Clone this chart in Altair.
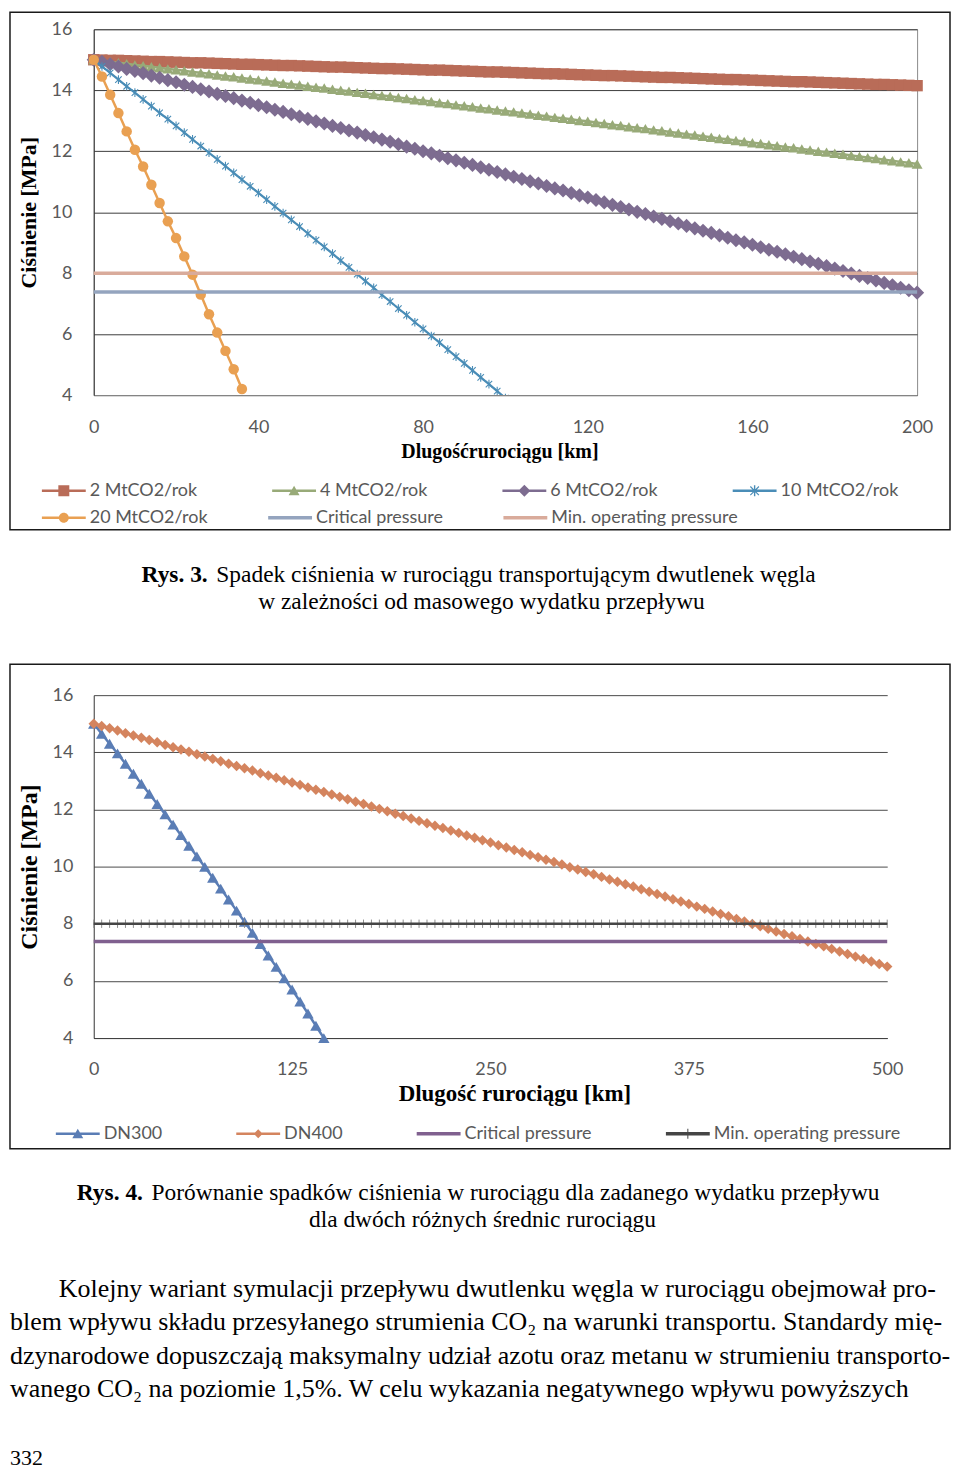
import altair as alt
import pandas as pd

# ------------------------------------------------------------------ Rys. 3 data
km_2_6 = list(range(0, 201, 2))
p_2mt = [15.00, 14.99, 14.98, 14.98, 14.97, 14.96, 14.95, 14.94, 14.94, 14.93,
         14.92, 14.91, 14.90, 14.90, 14.89, 14.88, 14.87, 14.86, 14.85, 14.85,
         14.84, 14.83, 14.82, 14.81, 14.81, 14.80, 14.79, 14.78, 14.77, 14.76,
         14.76, 14.75, 14.74, 14.73, 14.72, 14.71, 14.71, 14.70, 14.69, 14.68,
         14.67, 14.66, 14.66, 14.65, 14.64, 14.63, 14.62, 14.61, 14.60, 14.60,
         14.59, 14.58, 14.57, 14.56, 14.55, 14.54, 14.54, 14.53, 14.52, 14.51,
         14.50, 14.49, 14.48, 14.48, 14.47, 14.46, 14.45, 14.44, 14.43, 14.42,
         14.42, 14.41, 14.40, 14.39, 14.38, 14.37, 14.36, 14.35, 14.35, 14.34,
         14.33, 14.32, 14.31, 14.30, 14.29, 14.28, 14.28, 14.27, 14.26, 14.25,
         14.24, 14.23, 14.22, 14.21, 14.20, 14.19, 14.19, 14.18, 14.17, 14.16,
         14.15]
p_4mt = [15.00, 14.97, 14.93, 14.90, 14.87, 14.83, 14.80, 14.77, 14.74, 14.70,
         14.67, 14.64, 14.60, 14.57, 14.54, 14.50, 14.47, 14.44, 14.40, 14.37,
         14.34, 14.30, 14.27, 14.23, 14.20, 14.17, 14.13, 14.10, 14.07, 14.03,
         14.00, 13.97, 13.93, 13.90, 13.86, 13.83, 13.80, 13.76, 13.73, 13.69,
         13.66, 13.63, 13.59, 13.56, 13.52, 13.49, 13.46, 13.42, 13.39, 13.35,
         13.32, 13.29, 13.25, 13.22, 13.18, 13.15, 13.11, 13.08, 13.05, 13.01,
         12.98, 12.94, 12.91, 12.87, 12.84, 12.80, 12.77, 12.74, 12.70, 12.67,
         12.63, 12.60, 12.56, 12.53, 12.49, 12.46, 12.42, 12.39, 12.35, 12.32,
         12.28, 12.25, 12.21, 12.18, 12.14, 12.11, 12.07, 12.04, 12.00, 11.97,
         11.93, 11.90, 11.86, 11.83, 11.79, 11.76, 11.72, 11.69, 11.65, 11.62,
         11.58]
p_6mt = [15.00, 14.93, 14.85, 14.78, 14.70, 14.63, 14.56, 14.48, 14.41, 14.33,
         14.26, 14.18, 14.11, 14.03, 13.96, 13.88, 13.81, 13.74, 13.66, 13.59,
         13.51, 13.44, 13.36, 13.29, 13.21, 13.14, 13.06, 12.98, 12.91, 12.83,
         12.76, 12.68, 12.61, 12.53, 12.46, 12.38, 12.31, 12.23, 12.15, 12.08,
         12.00, 11.93, 11.85, 11.77, 11.70, 11.62, 11.55, 11.47, 11.39, 11.32,
         11.24, 11.16, 11.09, 11.01, 10.94, 10.86, 10.78, 10.71, 10.63, 10.55,
         10.48, 10.40, 10.32, 10.24, 10.17, 10.09, 10.01, 9.94, 9.86, 9.78,
         9.70, 9.63, 9.55, 9.47, 9.39, 9.32, 9.24, 9.16, 9.08, 9.01,
         8.93, 8.85, 8.77, 8.70, 8.62, 8.54, 8.46, 8.38, 8.31, 8.23,
         8.15, 8.07, 7.99, 7.91, 7.84, 7.76, 7.68, 7.60, 7.52, 7.44,
         7.36]
km_10 = list(range(0, 101, 2))
p_10mt = [15.00, 14.78, 14.57, 14.35, 14.13, 13.92, 13.70, 13.48, 13.26, 13.05,
          12.83, 12.61, 12.39, 12.17, 11.95, 11.73, 11.51, 11.29, 11.07, 10.85,
          10.63, 10.41, 10.19, 9.97, 9.75, 9.53, 9.30, 9.08, 8.86, 8.64,
          8.41, 8.19, 7.97, 7.74, 7.52, 7.29, 7.07, 6.84, 6.62, 6.39,
          6.17, 5.94, 5.72, 5.49, 5.26, 5.04, 4.81, 4.58, 4.36, 4.13,
          3.90]
km_20 = list(range(0, 37, 2))
p_20mt = [15.00, 14.45, 13.85, 13.25, 12.65, 12.05, 11.50, 10.90, 10.30, 9.70,
          9.15, 8.55, 7.95, 7.30, 6.65, 6.05, 5.45, 4.85, 4.20]
km_ref1 = [0, 200]
crit_p = 7.38
minop_p = 8.0

series1 = ["2 MtCO2/rok", "4 MtCO2/rok", "6 MtCO2/rok", "10 MtCO2/rok",
           "20 MtCO2/rok", "Critical pressure", "Min. operating pressure"]
colors1 = ["#B96C58", "#98AA78", "#7D6C90", "#4A8DB7", "#E9A052", "#94A4BE", "#D9AB9B"]
x1_ticks = [0, 40, 80, 120, 160, 200]
y_ticks = [4, 6, 8, 10, 12, 14, 16]

# ------------------------------------------------------------------ Rys. 4 data
km_300 = list(range(0, 146, 5))
p_dn300 = [15.00, 14.65, 14.30, 13.96, 13.60, 13.25, 12.90, 12.55, 12.19, 11.83,
           11.47, 11.10, 10.73, 10.36, 9.99, 9.61, 9.23, 8.85, 8.46, 8.07,
           7.68, 7.29, 6.89, 6.49, 6.09, 5.70, 5.28, 4.86, 4.43, 4.00]
km_400 = list(range(0, 501, 5))
p_dn400 = [15.00, 14.92, 14.84, 14.76, 14.67, 14.59, 14.51, 14.43, 14.35, 14.26,
           14.18, 14.10, 14.02, 13.93, 13.85, 13.77, 13.69, 13.60, 13.52, 13.44,
           13.36, 13.27, 13.19, 13.11, 13.02, 12.94, 12.86, 12.77, 12.69, 12.61,
           12.52, 12.44, 12.36, 12.27, 12.19, 12.10, 12.02, 11.94, 11.85, 11.77,
           11.68, 11.60, 11.52, 11.43, 11.35, 11.26, 11.18, 11.09, 11.01, 10.92,
           10.84, 10.75, 10.67, 10.58, 10.50, 10.41, 10.33, 10.24, 10.16, 10.07,
           9.98, 9.90, 9.81, 9.73, 9.64, 9.55, 9.47, 9.38, 9.30, 9.21,
           9.12, 9.04, 8.95, 8.86, 8.78, 8.69, 8.60, 8.52, 8.43, 8.34,
           8.26, 8.17, 8.08, 7.99, 7.91, 7.82, 7.73, 7.64, 7.56, 7.47,
           7.38, 7.29, 7.21, 7.12, 7.03, 6.94, 6.85, 6.77, 6.68, 6.59,
           6.50]
series2 = ["DN300", "DN400", "Critical pressure", "Min. operating pressure"]
colors2 = ["#5A7DB5", "#D4845E", "#80608F", "#454545"]
x2_ticks = [0, 125, 250, 375, 500]

# ------------------------------------------------------------------ page text
cap3_bold = "Rys. 3."
cap3_l1 = "Spadek ciśnienia w rurociągu transportującym dwutlenek węgla"
cap3_l2 = "w zależności od masowego wydatku przepływu"
cap4_bold = "Rys. 4."
cap4_l1 = "Porównanie spadków ciśnienia w rurociągu dla zadanego wydatku przepływu"
cap4_l2 = "dla dwóch różnych średnic rurociągu"
body_lines = [
    "Kolejny wariant symulacji przepływu dwutlenku węgla w rurociągu obejmował pro-",
    "blem wpływu składu przesyłanego strumienia CO₂ na warunki transportu. Standardy mię-",
    "dzynarodowe dopuszczają maksymalny udział azotu oraz metanu w strumieniu transporto-",
    "wanego CO₂ na poziomie 1,5%. W celu wykazania negatywnego wpływu powyższych",
]
page_no = "332"

# ------------------------------------------------------------------ symbols
LINE = "M-2.2,-0.12H2.2V0.12H-2.2Z"
THICK = "M-2.2,-0.17H2.2V0.17H-2.2Z"
SQ = "M-0.55,-0.55H0.55V0.55H-0.55Z"
TRI = "M0,-0.5L0.55,0.45H-0.55Z"
DIA = "M0,-0.6L0.6,0L0,0.6L-0.6,0Z"
DIA_S = "M0,-0.45L0.45,0L0,0.45L-0.45,0Z"
AST = ("M-0.07,-0.55H0.07V0.55H-0.07Z M-0.47,-0.39L-0.39,-0.47L0.47,0.39L0.39,0.47Z "
       "M-0.39,0.47L-0.47,0.39L0.39,-0.47L0.47,-0.39Z")
CIR = "M-0.5,0A0.5,0.5,0,1,1,0.5,0A0.5,0.5,0,1,1,-0.5,0Z"
TICKV = "M-0.05,-0.5H0.05V0.5H-0.05Z"
paths1 = [LINE + " " + SQ, LINE + " " + TRI, LINE + " " + DIA, LINE + " " + AST,
          LINE + " " + CIR, THICK, THICK]
paths2 = [LINE + " " + TRI, LINE + " " + DIA_S, THICK, THICK + " " + TICKV]
ASTERISK_MARK = "M0,-1V1M-0.75,-0.75L0.75,0.75M-0.75,0.75L0.75,-0.75"
TICK_MARK = "M0,-1V1"

SERIF = "Liberation Serif"
SANS = "Lato"
GRAYTXT = "#595959"


def df(xs, ys):
    return pd.DataFrame({"km": xs, "p": ys})


def legend_spec(lx, ly, pad):
    return alt.Legend(orient="none", legendX=lx, legendY=ly, direction="horizontal",
                      title=None, symbolSize=400, symbolStrokeWidth=0, symbolOpacity=1,
                      labelFont=SANS, labelFontSize=18, labelColor=GRAYTXT, labelOffset=16,
                      columnPadding=pad, padding=0, labelLimit=400)


def legend_layer(names, cols, paths, X, Y, xval, spec):
    data = pd.DataFrame({"series": names, "km": [xval] * len(names), "p": [10] * len(names)})
    return alt.Chart(data).mark_point(filled=True, opacity=0).encode(
        x=X, y=Y,
        color=alt.Color("series:N", scale=alt.Scale(domain=names, range=cols), legend=spec),
        shape=alt.Shape("series:N", scale=alt.Scale(domain=names, range=paths), legend=spec),
    )


def frame(x0, x1, y0, y1):
    return alt.Chart(pd.DataFrame({"k": [0]})).mark_rect(
        fill="transparent", stroke="#1a1a1a", strokeWidth=1.5
    ).encode(x=alt.value(x0), x2=alt.value(x1), y=alt.value(y0), y2=alt.value(y1))


def line_pts(data, X, Y, color, lw, shape=None, size=60, filled=True, sw=1.0, clip=False):
    layers = [alt.Chart(data).mark_line(color=color, strokeWidth=lw, clip=clip).encode(x=X, y=Y)]
    if shape is not None:
        layers.append(alt.Chart(data).mark_point(
            shape=shape, size=size, filled=filled, color=color, opacity=1,
            strokeWidth=sw, clip=clip).encode(x=X, y=Y))
    return layers


# ------------------------------------------------------------------ chart 1
xs1 = alt.Scale(domain=[0, 200], nice=False, zero=False)
ysc = alt.Scale(domain=[4, 16], nice=False, zero=False)
X1 = alt.X("km:Q", scale=xs1, axis=alt.Axis(
    values=x1_ticks, title="Dlugośćrurociągu [km]", grid=False, ticks=False,
    domainColor="#8c8c8c", labelPadding=24, labelFlush=False, labelOverlap=False,
    labelFont=SANS, labelFontSize=18, labelColor=GRAYTXT,
    titleFont=SERIF, titleFontWeight="bold", titleFontSize=20, titleColor="#000000",
    titleX=407, titleY=57, titleBaseline="middle"))
Y1 = alt.Y("p:Q", scale=ysc, axis=alt.Axis(
    values=y_ticks, title="Ciśnienie [MPa]", grid=True, gridColor="#3c3c3c", ticks=False,
    domainColor="#333333", labelPadding=22, labelFlush=False, labelOverlap=False,
    labelFont=SANS, labelFontSize=18, labelColor=GRAYTXT,
    titleFont=SERIF, titleFontWeight="bold", titleFontSize=22, titleColor="#000000",
    titleX=-65, titleY=183.5, titleBaseline="middle"))

layers1 = []
layers1 += line_pts(df(km_2_6, p_2mt), X1, Y1, colors1[0], 2.5, "square", 130)
layers1 += line_pts(df(km_2_6, p_4mt), X1, Y1, colors1[1], 2.5, "triangle-up", 120)
layers1 += line_pts(df(km_2_6, p_6mt), X1, Y1, colors1[2], 2.5, "diamond", 200)
layers1 += line_pts(df(km_10, p_10mt), X1, Y1, colors1[3], 2.2, ASTERISK_MARK, 75,
                    filled=False, sw=1.1, clip=True)
layers1 += line_pts(df(km_20, p_20mt), X1, Y1, colors1[4], 2.5, "circle", 110)
layers1 += line_pts(df(km_ref1, [crit_p] * 2), X1, Y1, colors1[5], 3.5)
layers1 += line_pts(df(km_ref1, [minop_p] * 2), X1, Y1, colors1[6], 3.5)

legA = legend_layer(series1[:4], colors1[:4], paths1[:4], X1, Y1, 100, legend_spec(-40, 453, 75))
legB = legend_layer(series1[4:], colors1[4:], paths1[4:], X1, Y1, 100, legend_spec(-40, 480, 60))

chart1 = alt.layer(frame(-84, 859, -17, 502), *layers1, legA, legB).resolve_scale(
    color="independent", shape="independent"
).properties(width=826, height=367, view=alt.ViewBackground(stroke="#8c8c8c"))

# ------------------------------------------------------------------ chart 2
xs2 = alt.Scale(domain=[0, 500], nice=False, zero=False)
X2 = alt.X("km:Q", scale=xs2, axis=alt.Axis(
    values=x2_ticks, title="Dlugość rurociągu [km]", grid=False, ticks=False,
    domainColor="#404040", labelPadding=23, labelFlush=False, labelOverlap=False,
    labelFont=SANS, labelFontSize=18, labelColor=GRAYTXT,
    titleFont=SERIF, titleFontWeight="bold", titleFontSize=23, titleColor="#000000",
    titleX=422, titleY=56, titleBaseline="middle"))
Y2 = alt.Y("p:Q", scale=ysc, axis=alt.Axis(
    values=y_ticks, title="Ciśnienie [MPa]", grid=True, gridColor="#4a4a4a", ticks=False,
    domainColor="#333333", labelPadding=21, labelFlush=False, labelOverlap=False,
    labelFont=SANS, labelFontSize=18, labelColor=GRAYTXT,
    titleFont=SERIF, titleFontWeight="bold", titleFontSize=24, titleColor="#000000",
    titleX=-64, titleY=172, titleBaseline="middle"))

layers2 = []
layers2 += line_pts(df(km_300, p_dn300), X2, Y2, colors2[0], 2.5, "triangle-up", 130)
layers2 += line_pts(df(km_400, p_dn400), X2, Y2, colors2[1], 2.5, "diamond", 110)
layers2 += line_pts(df([0, 500], [crit_p] * 2), X2, Y2, colors2[2], 3.5)
layers2.append(alt.Chart(df(km_400, [minop_p] * len(km_400))).mark_point(
    shape=TICK_MARK, size=70, filled=False, color="#8f8f8f", opacity=1, strokeWidth=1
).encode(x=X2, y=Y2))
layers2 += line_pts(df([0, 500], [minop_p] * 2), X2, Y2, colors2[3], 2.5)

leg2 = legend_layer(series2, colors2, paths2, X2, Y2, 250, legend_spec(-26, 430, 74))

chart2 = alt.layer(frame(-84, 859, -31, 455), *layers2, leg2).properties(
    width=796, height=344, view=alt.ViewBackground(stroke="transparent"))


# ------------------------------------------------------------------ text blocks
def txt(s, x, y, size, bold=False, align="left"):
    return alt.Chart(pd.DataFrame({"t": [s]})).mark_text(
        font=SERIF, fontSize=size, fontWeight="bold" if bold else "normal",
        align=align, baseline="middle", color="#000000"
    ).encode(text="t:N", x=alt.value(x), y=alt.value(y))


cap1 = alt.layer(
    txt(cap3_bold, 48, 42, 23.5, bold=True),
    txt(cap3_l1, 123, 42, 23.5),
    txt(cap3_l2, 389, 70, 23.5, align="center"),
).properties(width=859, height=129, view=alt.ViewBackground(stroke="transparent"))

body_y = [138, 171, 205, 238]
body_x = [-35, -84, -84, -84]
cap2 = alt.layer(
    txt(cap4_bold, -17, 41, 23.5, bold=True),
    txt(cap4_l1, 58, 41, 23.5),
    txt(cap4_l2, 390, 69, 23.5, align="center"),
    *[txt(s, bx, by, 26) for s, bx, by in zip(body_lines, body_x, body_y)],
    txt(page_no, -84, 307, 22),
).properties(width=859, height=310, view=alt.ViewBackground(stroke="transparent"))

chart = alt.vconcat(chart1, cap1, chart2, cap2, spacing=0).resolve_scale(
    x="independent", y="independent", color="independent", shape="independent"
).properties(padding=0).configure(background="#ffffff")

chart.save("out.html", embed_options={"renderer": "svg", "actions": False})
